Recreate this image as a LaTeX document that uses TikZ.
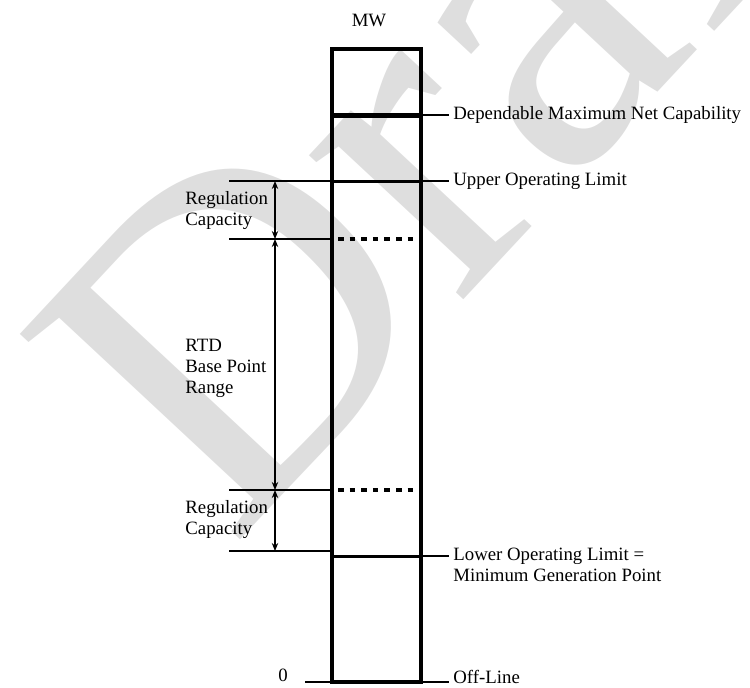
\documentclass[tikz,border=0pt]{standalone}
\usepackage{fontspec}
\setmainfont{Liberation Serif}
\usepackage{tikz}
\usetikzlibrary{calc,arrows.meta,positioning}
\definecolor{draftGray}{RGB}{222,222,222}
\tikzset{
  barline/.style={line width=2pt},
  levelline/.style={line width=1.5pt},
  dotline/.style={line width=1.8pt, dash pattern=on 2.8pt off 3pt},
  tickline/.style={line width=0.6pt},
  rangearrow/.style={line width=0.6pt, {Stealth[length=4pt,width=3.2pt]}-{Stealth[length=4pt,width=3.2pt]}},
  lbl/.style={font=\fontsize{9.4}{10.5}\selectfont, inner sep=0pt, align=left},
}

\begin{document}
\begin{tikzpicture}[x=0.5pt,y=-0.5pt]
\useasboundingbox (0,0) rectangle (750,687);
\node[draftGray, rotate=47, anchor=base west, inner sep=0pt,
      font=\fontsize{230}{230}\selectfont] (draft) at (231,550) {Draft};

% levels on the column
\foreach \name/\y in {dmnc/115,uol/181,rgA/239,rgB/490,lol/556,off/682}{
  \coordinate (\name L) at (332,\y);
  \coordinate (\name R) at (421,\y);
}
\coordinate (top L) at (332,49);
\draw[barline] (top L) rectangle (offR);
\draw[line width=2.5pt] (dmncL) -- (dmncR);
\draw[levelline] (uolL) -- (uolR);
\draw[levelline] (lolL) -- (lolR);
\draw[dotline] ($(rgAL)+(6,0)$) -- (rgAR);
\draw[dotline] ($(rgBL)+(6,0)$) -- (rgBR);

% ticks on the right
\foreach \name in {dmnc,uol,lol,off}{
  \coordinate (\name T) at ($(\name R)+(28,0)$);
  \draw[tickline] (\name R) -- (\name T);
}

% ticks and arrows on the left
\foreach \name/\y in {a/181,b/239,c/490,d/551}{
  \coordinate (tk\name) at (229,\y);
  \coordinate (ar\name) at (275,\y);
  \draw[tickline] (tk\name) -- (332,\y);
}
\coordinate (zeroT) at (305,682);
\draw[tickline] (zeroT) -- (offL);
\draw[rangearrow] (ara) -- (arb);
\draw[rangearrow] (arb) -- (arc);
\draw[rangearrow] (arc) -- (ard);

% labels
\node[lbl] (mw) at (369,20) {MW};
\node[lbl, right=2pt of dmncT] (dmncText) {Dependable Maximum Net Capability};
\node[lbl, right=2pt of uolT] (uolText) {Upper Operating Limit};
\node[lbl, right=2pt of lolT, yshift=-4.5pt] (lolText) {Lower Operating Limit =\\Minimum Generation Point};
\node[lbl, right=2pt of offT, yshift=2.5pt] (offText) {Off-Line};
\node[lbl, anchor=west] (regA) at (185,210) {Regulation\\Capacity};
\node[lbl, anchor=west] (rtd) at (185,368) {RTD\\Base Point\\Range};
\node[lbl, anchor=west] (regB) at (185,519) {Regulation\\Capacity};
\node[lbl] (zero) at (283,675) {0};
\end{tikzpicture}
\end{document}
